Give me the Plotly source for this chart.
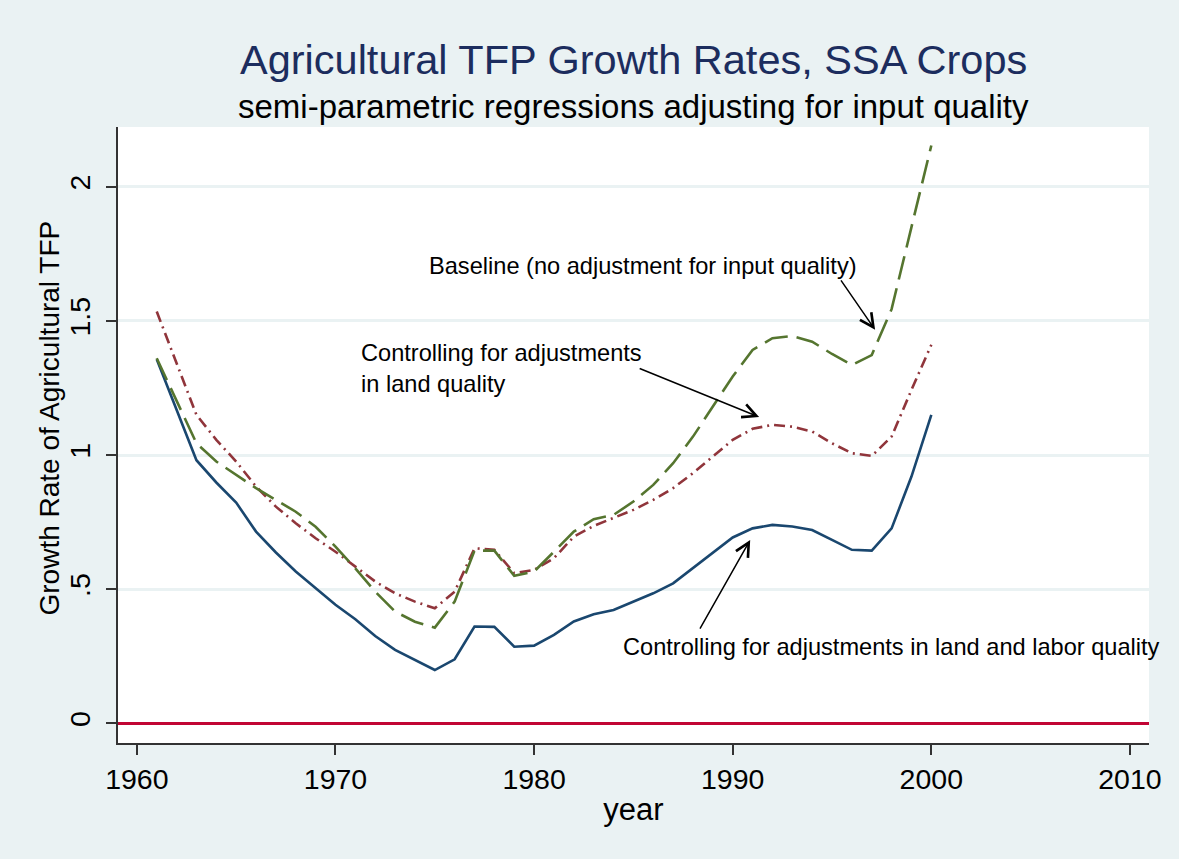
import plotly.graph_objects as go

years = list(range(1961, 2001))

land_labor = [1.357, 1.17, 0.981, 0.898, 0.823, 0.715, 0.637, 0.566, 0.504, 0.442,
              0.388, 0.326, 0.274, 0.237, 0.199, 0.239, 0.361, 0.360, 0.286, 0.290,
              0.330, 0.380, 0.407, 0.423, 0.454, 0.485, 0.522, 0.578, 0.634, 0.693,
              0.727, 0.740, 0.734, 0.721, 0.684, 0.647, 0.644, 0.727, 0.920, 1.150]

land = [1.535, 1.345, 1.150, 1.057, 0.976, 0.883, 0.808, 0.746, 0.690, 0.640,
        0.584, 0.529, 0.485, 0.454, 0.429, 0.491, 0.653, 0.647, 0.560, 0.572,
        0.616, 0.696, 0.736, 0.765, 0.796, 0.833, 0.877, 0.933, 0.994, 1.057,
        1.098, 1.113, 1.106, 1.088, 1.044, 1.007, 0.997, 1.069, 1.243, 1.411]

baseline = [1.361, 1.200, 1.044, 0.976, 0.926, 0.877, 0.833, 0.789, 0.733, 0.659,
            0.578, 0.491, 0.417, 0.379, 0.357, 0.454, 0.644, 0.644, 0.550, 0.566,
            0.640, 0.715, 0.761, 0.777, 0.827, 0.889, 0.970, 1.069, 1.181, 1.293,
            1.392, 1.436, 1.444, 1.423, 1.377, 1.336, 1.373, 1.544, 1.850, 2.154]

y_ticks = [0, 0.5, 1, 1.5, 2]
y_ticktext = ["0", ".5", "1", "1.5", "2"]
x_ticks = [1960, 1970, 1980, 1990, 2000, 2010]

title_text = "Agricultural TFP Growth Rates, SSA Crops"
subtitle_text = "semi-parametric regressions adjusting for input quality"
y_title = "Growth Rate of Agricultural TFP"
label_baseline = "Baseline (no adjustment for input quality)"
label_land = "Controlling for adjustments<br>in land quality"
label_land_labor = "Controlling for adjustments in land and labor quality"

FONT = "Liberation Sans, Arial, Helvetica, sans-serif"
BG = "#EAF2F3"

fig = go.Figure()
fig.add_trace(go.Scatter(x=years, y=land_labor, mode="lines",
                         line=dict(color="#1A476F", width=2.6), showlegend=False))
fig.add_trace(go.Scatter(x=years, y=land, mode="lines",
                         line=dict(color="#90353B", width=2.6, dash="11px,5px,2px,5px"),
                         showlegend=False))
fig.add_trace(go.Scatter(x=years, y=baseline, mode="lines",
                         line=dict(color="#55752F", width=2.6, dash="24px,9px"),
                         showlegend=False))

ann_font = dict(family=FONT, size=23.6, color="black")
annotations = [
    dict(text=title_text, xref="paper", yref="paper", x=0.5, y=1.109,
         xanchor="center", yanchor="middle", showarrow=False,
         font=dict(family=FONT, size=41.5, color="#1C2D5E")),
    dict(text=subtitle_text, xref="paper", yref="paper", x=0.5, y=1.034,
         xanchor="center", yanchor="middle", showarrow=False,
         font=dict(family=FONT, size=33, color="black")),
    dict(text=y_title, xref="paper", yref="paper", x=-0.0669, y=0.5268,
         xanchor="center", yanchor="middle", textangle=-90, showarrow=False,
         font=dict(family=FONT, size=28, color="black")),
    dict(text=label_baseline, xref="x", yref="y", x=1974.6, y=1.705,
         xanchor="left", yanchor="middle", showarrow=False, font=ann_font),
    dict(text=label_land, xref="x", yref="y", x=1971.2, y=1.323, align="left",
         xanchor="left", yanchor="middle", showarrow=False, font=ann_font),
    dict(text=label_land_labor, xref="x", yref="y", x=1984.4, y=0.285,
         xanchor="left", yanchor="middle", showarrow=False, font=ann_font),
    # arrows
    dict(text="", x=1997.17, y=1.467, ax=1995.40, ay=1.657, xref="x", yref="y",
         axref="x", ayref="y", showarrow=True, arrowhead=5, arrowsize=1.8,
         arrowwidth=1.5, arrowcolor="black", standoff=0),
    dict(text="", x=1991.33, y=1.142, ax=1985.24, ay=1.325, xref="x", yref="y",
         axref="x", ayref="y", showarrow=True, arrowhead=5, arrowsize=1.8,
         arrowwidth=1.5, arrowcolor="black", standoff=0),
    dict(text="", x=1990.88, y=0.684, ax=1988.31, ay=0.348, xref="x", yref="y",
         axref="x", ayref="y", showarrow=True, arrowhead=5, arrowsize=1.8,
         arrowwidth=1.5, arrowcolor="black", standoff=0),
]

fig.update_layout(
    width=1179, height=859,
    margin=dict(l=118, r=30, t=127, b=116),
    paper_bgcolor=BG, plot_bgcolor="white",
    font=dict(family=FONT, color="black"),
    annotations=annotations,
    xaxis=dict(range=[1959.05, 2010.96], tickvals=x_ticks, showgrid=False,
               zeroline=False, showline=True, linecolor="#333333", linewidth=1.5,
               ticks="outside", ticklen=10, tickwidth=1.5, tickcolor="#333333",
               tickfont=dict(size=28.5, color="black"),
               title=dict(text="year", font=dict(size=31, color="black"), standoff=4)),
    yaxis=dict(range=[-0.073, 2.223], tickvals=y_ticks, ticktext=y_ticktext,
               tickangle=-90, showgrid=True, gridcolor=BG, gridwidth=2.5,
               zeroline=True, zerolinecolor="#C10534", zerolinewidth=3,
               showline=True, linecolor="#333333", linewidth=1.5,
               ticks="outside", ticklen=10, tickwidth=1.5, tickcolor="#333333",
               tickfont=dict(size=28.5, color="black"), ticklabelstandoff=5),
)

fig.write_html("out.html", config={"displayModeBar": False},
               post_script="document.body.style.margin='0';"
                           "document.body.style.background='" + BG + "';")
